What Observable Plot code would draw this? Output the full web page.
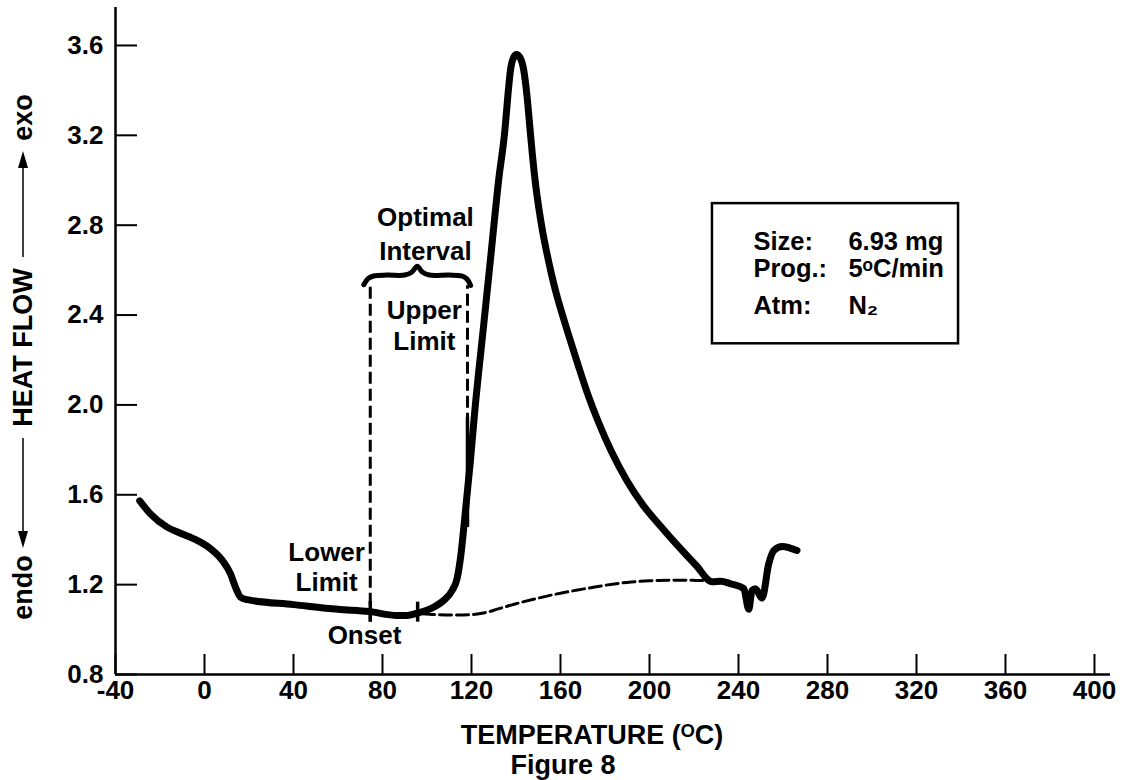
<!DOCTYPE html>
<html>
<head>
<meta charset="utf-8">
<script src="https://cdn.jsdelivr.net/npm/d3@7"></script>
<script src="https://cdn.jsdelivr.net/npm/@observablehq/plot@0.6"></script>
<style>
  html, body { margin: 0; padding: 0; background: #fff; }
</style>
</head>
<body>
<div id="chart"></div>
<script>
// ---------- DATA ----------
const xTicks = [-40, 0, 40, 80, 120, 160, 200, 240, 280, 320, 360, 400];
const yTicks = [0.8, 1.2, 1.6, 2.0, 2.4, 2.8, 3.2, 3.6];

// DSC trace (solid)
const traceT = [-29.1, -24.3, -16.8, -10.8, -3.3, 2.7, 8.0, 11.7, 13.9, 16.2, 19.2, 40, 60, 74, 86.6, 91, 95.6, 101.6, 107.5, 111.3, 113.5, 115.1, 117.3, 119.5, 121.5, 125.5, 128.5, 132.2, 135, 136.3, 137.5, 139, 140.2, 141.7, 143.5, 145, 146.2, 147.4, 148.7, 150.2, 152, 154, 156, 158, 160, 164, 168, 172, 177, 183, 190, 197, 205, 213, 221, 228.2, 232, 236.4, 242.4, 244.6, 246.1, 247.6, 250.6, 253.6, 255.9, 259.6, 266.3];
const traceHF = [1.573, 1.515, 1.456, 1.429, 1.397, 1.36, 1.308, 1.248, 1.189, 1.144, 1.133, 1.111, 1.09, 1.08, 1.063, 1.063, 1.073, 1.093, 1.13, 1.174, 1.226, 1.322, 1.53, 1.75, 1.975, 2.358, 2.645, 3.0, 3.222, 3.37, 3.489, 3.548, 3.56, 3.548, 3.489, 3.37, 3.24, 3.11, 2.99, 2.88, 2.77, 2.67, 2.58, 2.5, 2.43, 2.3, 2.175, 2.055, 1.925, 1.79, 1.66, 1.555, 1.46, 1.37, 1.285, 1.213, 1.215, 1.204, 1.182, 1.09, 1.174, 1.182, 1.14, 1.293, 1.352, 1.37, 1.352];

// extrapolated baseline (dashed)
const baseT = [98, 105, 112, 120, 126, 132, 140, 150, 160, 170, 180, 190, 200, 210, 220, 228];
const baseHF = [1.07, 1.066, 1.065, 1.067, 1.075, 1.092, 1.115, 1.14, 1.162, 1.18, 1.197, 1.21, 1.217, 1.22, 1.219, 1.217];

// limits (dashed verticals)
const limitT = [74.5, 118.2];
const limitLow = [1.033, 1.455];
const limitHigh = [2.53, 2.53];
// solid marker ticks on the trace
const markT = [74.5, 95.8, 118.2];
const markLow = [1.033, 1.033, 1.455];
const markHigh = [1.125, 1.122, 1.945];

// brace over optimal interval
const braceT = [71.6, 73.5, 76, 82, 90, 93.3, 95.6, 97.9, 101, 110, 115.5, 118, 119.6];
const braceHF = [2.535, 2.562, 2.574, 2.578, 2.578, 2.592, 2.617, 2.592, 2.578, 2.578, 2.574, 2.56, 2.532];

// annotation texts
const noteText = ["Optimal", "Interval", "Upper", "Limit", "Lower", "Limit", "Onset"];
const noteT = [99.3, 99.3, 98.8, 98.8, 54.9, 54.9, 71.9];
const noteHF = [2.832, 2.684, 2.421, 2.283, 1.343, 1.207, 0.974];

// legend box
const legendKeys = ["Size:", "Prog.:", "Atm:"];
const legendValues = ["6.93 mg", "5\u1D52C/min", "N\u2082"];
const legendHF = [2.724, 2.606, 2.443];
const legendKeyT = 246.7;
const legendValT = 289.4;
const legendBox = [{x1: 228.3, x2: 338.9, y1: 2.272, y2: 2.896}];

const xLabel = "TEMPERATURE (\u1D3CC)";
const figCaption = "Figure 8";
const yLabelParts = ["exo", "HEAT FLOW", "endo"];

// ---------- TABLES ----------
const trace = traceT.map((t, i) => ({t, hf: traceHF[i]}));
const base = baseT.map((t, i) => ({t, hf: baseHF[i]}));
const limits = limitT.map((t, i) => ({t, lo: limitLow[i], hi: limitHigh[i]}));
const marks = markT.map((t, i) => ({t, lo: markLow[i], hi: markHigh[i]}));
const brace = braceT.map((t, i) => ({t, hf: braceHF[i]}));
const notes = noteText.map((s, i) => ({s, t: noteT[i], hf: noteHF[i]}));
const legendRows = legendKeys.map((k, i) => ({k, v: legendValues[i], hf: legendHF[i]}));

const FONT = "'Liberation Sans', Arial, Helvetica, sans-serif";
const FS = 26;

const chart = Plot.plot({
  width: 1123,
  height: 780,
  marginLeft: 115,
  marginRight: 13,
  marginTop: 7,
  marginBottom: 106,
  x: {domain: [-40, 407.2], label: null},
  y: {domain: [0.8, 3.769], label: null},
  style: {fontFamily: FONT, fontSize: FS + "px", fontWeight: "bold", color: "black", background: "white"},
  marks: [
    Plot.axisX({ticks: xTicks, tickSize: -20, tickPadding: 26, strokeWidth: 2, label: null, tickFormat: d => String(d)}),
    Plot.axisY({ticks: yTicks, tickSize: -22, tickPadding: 34, strokeWidth: 2, label: null, tickFormat: d => d.toFixed(1)}),
    Plot.ruleX([-40], {strokeWidth: 2.5}),
    Plot.ruleY([0.8], {strokeWidth: 2.5}),
    Plot.line(base, {x: "t", y: "hf", stroke: "black", strokeWidth: 3, strokeDasharray: "12,5", curve: "monotone-x"}),
    Plot.ruleX(limits, {x: "t", y1: "lo", y2: "hi", stroke: "black", strokeWidth: 3, strokeDasharray: "12,5"}),
    Plot.ruleX(marks, {x: "t", y1: "lo", y2: "hi", stroke: "black", strokeWidth: 3.5}),
    Plot.line(trace, {x: "t", y: "hf", stroke: "black", strokeWidth: 7, strokeLinecap: "round", strokeLinejoin: "round", curve: "monotone-x"}),
    Plot.line(brace, {x: "t", y: "hf", stroke: "black", strokeWidth: 5, strokeLinecap: "round", strokeLinejoin: "round", curve: "catmull-rom"}),
    Plot.text(notes, {x: "t", y: "hf", text: "s", fontSize: FS, fontWeight: "bold", textAnchor: "middle"}),
    Plot.rect(legendBox, {x1: "x1", x2: "x2", y1: "y1", y2: "y2", fill: "none", stroke: "black", strokeWidth: 2.5}),
    Plot.text(legendRows, {x: () => legendKeyT, y: "hf", text: "k", textAnchor: "start", fontSize: 25.5, fontWeight: "bold"}),
    Plot.text(legendRows, {x: () => legendValT, y: "hf", text: "v", textAnchor: "start", fontSize: 25.5, fontWeight: "bold"}),
    Plot.text([xLabel], {text: d => d, frameAnchor: "bottom", lineAnchor: "bottom", dx: -21, dy: 69, fontSize: 27, fontWeight: "bold"}),
    Plot.text([figCaption], {text: d => d, frameAnchor: "bottom", lineAnchor: "bottom", dx: -50, dy: 99, fontSize: 27, fontWeight: "bold"})
  ]
});

document.getElementById("chart").appendChild(chart);

// ---------- rotated y-axis label with arrows ----------
const svg = d3.select(chart);
const g = svg.append("g")
  .attr("font-family", FONT)
  .attr("font-size", 27)
  .attr("font-weight", "bold")
  .attr("fill", "black");
const baseX = 32;
const centers = [117.5, 347.5, 587.5];
yLabelParts.forEach((s, i) => {
  g.append("text")
    .attr("transform", `translate(${baseX},${centers[i]}) rotate(-90)`)
    .attr("text-anchor", "middle")
    .text(s);
});
const ax = 23;
// up arrow (toward exo)
g.append("line").attr("x1", ax).attr("x2", ax).attr("y1", 257).attr("y2", 165).attr("stroke", "black").attr("stroke-width", 1.5);
g.append("path").attr("d", `M${ax},151 L${ax - 5},168 L${ax + 5},168 Z`).attr("fill", "black");
// down arrow (toward endo)
g.append("line").attr("x1", ax).attr("x2", ax).attr("y1", 438).attr("y2", 532).attr("stroke", "black").attr("stroke-width", 1.5);
g.append("path").attr("d", `M${ax},548 L${ax - 5},531 L${ax + 5},531 Z`).attr("fill", "black");
</script>
</body>
</html>
